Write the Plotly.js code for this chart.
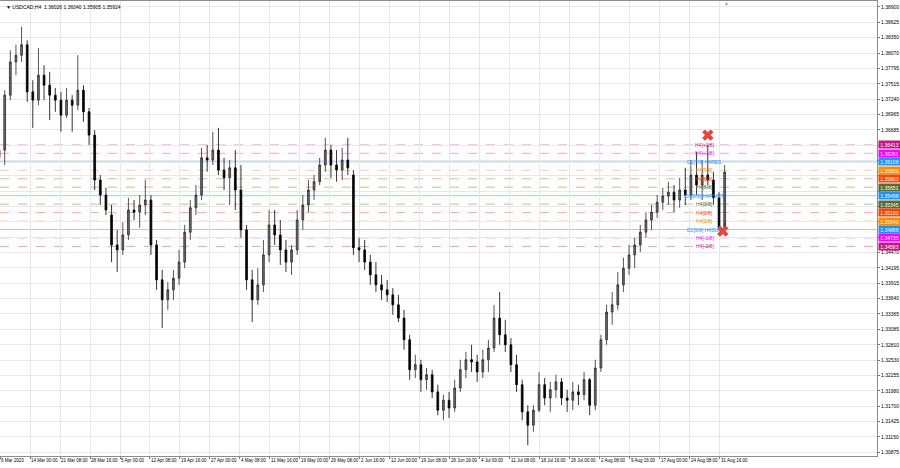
<!DOCTYPE html>
<html>
<head>
<meta charset="utf-8">
<script src="https://cdn.plot.ly/plotly-3.0.1.min.js"></script>
<style>html,body{margin:0;padding:0;background:#fff;}#chart{width:900px;height:468px;}</style>
</head>
<body>
<div id="chart"></div>
<script>
// Daily OHLC (6 Mar 2023 .. 1 Sep 2023)
const openP = [1.3618,1.3632,1.3731,1.3791,1.3803,1.3822,1.3737,1.3722,1.3767,1.3749,
1.3731,1.3722,1.3695,1.3722,1.3713,1.3740,1.3701,1.3659,1.3578,1.3551,
1.3515,1.3461,1.3452,1.3479,1.3524,1.3520,1.3533,1.3542,1.3461,1.3398,
1.3362,1.3380,1.3401,1.3430,1.3484,1.3528,1.3551,1.3618,1.3614,1.3632,
1.3596,1.3582,1.3600,1.3560,1.3488,1.3398,1.3362,1.3389,1.3443,1.3497,
1.3479,1.3452,1.3430,1.3452,1.3506,1.3533,1.3560,1.3575,1.3605,1.3632,
1.3605,1.3596,1.3614,1.3587,1.3456,1.3452,1.3430,1.3407,1.3389,1.3380,
1.3371,1.3353,1.3329,1.3290,1.3236,1.3245,1.3218,1.3227,1.3196,1.3163,
1.3181,1.3167,1.3203,1.3236,1.3254,1.3250,1.3232,1.3254,1.3275,1.3329,
1.3299,1.3281,1.3245,1.3209,1.3160,1.3136,1.3163,1.3209,1.3185,1.3200,
1.3214,1.3185,1.3181,1.3196,1.3191,1.3218,1.3172,1.3239,1.3290,1.3340,
1.3353,1.3389,1.3419,1.3443,1.3461,1.3484,1.3506,1.3520,1.3538,1.3549,
1.3556,1.3542,1.3560,1.3551,1.3587,1.3569,1.3587,1.3578,1.3546,1.3492];
const highP = [1.3650,1.3740,1.3812,1.3822,1.3854,1.3830,1.3758,1.3816,1.3785,1.3773,
1.3744,1.3737,1.3744,1.3731,1.3803,1.3749,1.3708,1.3668,1.3587,1.3564,
1.3533,1.3488,1.3502,1.3546,1.3542,1.3551,1.3578,1.3551,1.3470,1.3416,
1.3394,1.3416,1.3452,1.3497,1.3542,1.3569,1.3636,1.3641,1.3665,1.3672,
1.3618,1.3614,1.3632,1.3605,1.3497,1.3416,1.3419,1.3470,1.3524,1.3524,
1.3506,1.3470,1.3461,1.3524,1.3551,1.3578,1.3587,1.3618,1.3654,1.3641,
1.3632,1.3636,1.3654,1.3596,1.3474,1.3470,1.3443,1.3430,1.3407,1.3398,
1.3383,1.3371,1.3344,1.3299,1.3263,1.3254,1.3239,1.3236,1.3209,1.3191,
1.3196,1.3218,1.3254,1.3268,1.3281,1.3263,1.3272,1.3290,1.3353,1.3376,
1.3326,1.3293,1.3263,1.3218,1.3172,1.3172,1.3232,1.3221,1.3214,1.3227,
1.3221,1.3200,1.3214,1.3209,1.3232,1.3221,1.3254,1.3299,1.3353,1.3376,
1.3412,1.3438,1.3461,1.3474,1.3497,1.3520,1.3533,1.3551,1.3564,1.3575,
1.3569,1.3582,1.3600,1.3614,1.3629,1.3614,1.3641,1.3593,1.3556,1.3605];
const lowP = [1.3603,1.3605,1.3722,1.3767,1.3791,1.3719,1.3672,1.3713,1.3722,1.3686,
1.3701,1.3665,1.3690,1.3665,1.3704,1.3683,1.3641,1.3560,1.3533,1.3515,
1.3430,1.3412,1.3443,1.3470,1.3506,1.3492,1.3515,1.3443,1.3380,1.3311,
1.3344,1.3362,1.3389,1.3419,1.3470,1.3515,1.3542,1.3593,1.3605,1.3587,
1.3560,1.3533,1.3524,1.3474,1.3380,1.3322,1.3353,1.3376,1.3430,1.3461,
1.3425,1.3412,1.3407,1.3443,1.3488,1.3520,1.3542,1.3569,1.3593,1.3582,
1.3575,1.3578,1.3587,1.3443,1.3430,1.3416,1.3389,1.3376,1.3362,1.3358,
1.3335,1.3322,1.3272,1.3218,1.3221,1.3196,1.3200,1.3185,1.3154,1.3145,
1.3149,1.3160,1.3196,1.3221,1.3232,1.3214,1.3221,1.3232,1.3268,1.3281,
1.3268,1.3232,1.3196,1.3145,1.3100,1.3124,1.3160,1.3172,1.3160,1.3185,
1.3172,1.3160,1.3163,1.3172,1.3181,1.3154,1.3163,1.3232,1.3281,1.3317,
1.3344,1.3376,1.3407,1.3419,1.3448,1.3474,1.3488,1.3510,1.3524,1.3533,
1.3520,1.3528,1.3533,1.3542,1.3551,1.3542,1.3569,1.3533,1.3492,1.3502];
const closeP = [1.3632,1.3731,1.3791,1.3803,1.3822,1.3737,1.3722,1.3767,1.3749,1.3731,
1.3722,1.3695,1.3722,1.3713,1.3740,1.3701,1.3659,1.3578,1.3551,1.3524,
1.3461,1.3452,1.3479,1.3524,1.3520,1.3533,1.3542,1.3461,1.3398,1.3362,
1.3380,1.3401,1.3430,1.3484,1.3528,1.3551,1.3618,1.3614,1.3632,1.3596,
1.3582,1.3600,1.3560,1.3488,1.3398,1.3362,1.3389,1.3443,1.3497,1.3479,
1.3452,1.3430,1.3452,1.3506,1.3533,1.3560,1.3575,1.3605,1.3632,1.3605,
1.3596,1.3614,1.3600,1.3456,1.3452,1.3430,1.3407,1.3389,1.3380,1.3371,
1.3353,1.3329,1.3290,1.3236,1.3245,1.3218,1.3227,1.3196,1.3163,1.3181,
1.3167,1.3203,1.3236,1.3254,1.3250,1.3232,1.3254,1.3275,1.3329,1.3299,
1.3281,1.3245,1.3209,1.3160,1.3136,1.3163,1.3209,1.3185,1.3200,1.3214,
1.3185,1.3181,1.3196,1.3191,1.3218,1.3172,1.3239,1.3290,1.3340,1.3353,
1.3389,1.3419,1.3443,1.3461,1.3484,1.3506,1.3520,1.3538,1.3549,1.3556,
1.3542,1.3560,1.3551,1.3587,1.3569,1.3587,1.3578,1.3546,1.3492,1.35924];

const xTickText = ['6 Mar 2023','14 Mar 00:00','21 Mar 08:00','28 Mar 16:00','5 Apr 00:00','12 Apr 08:00',
'19 Apr 16:00','27 Apr 00:00','4 May 08:00','11 May 16:00','19 May 00:00','26 May 08:00','2 Jun 16:00',
'12 Jun 00:00','19 Jun 08:00','26 Jun 16:00','4 Jul 00:00','11 Jul 08:00','18 Jul 16:00','26 Jul 00:00',
'2 Aug 08:00','9 Aug 16:00','17 Aug 00:00','24 Aug 08:00','31 Aug 16:00'];
// price-scale ticks; those hidden behind the level boxes in the reference are left blank
const yTickVals = [1.38900,1.38625,1.38350,1.38070,1.37795,1.37515,1.37240,1.36965,1.36685,
1.36410,1.36130,1.35855,1.35575,1.35300,1.35025,1.34745,1.34470,1.34195,1.33915,1.33640,
1.33365,1.33085,1.32810,1.32530,1.32255,1.31980,1.31700,1.31425,1.31150,1.30875];
const yTickText = ['1.38900','1.38625','1.38350','1.38070','1.37795','1.37515','1.37240','1.36965','1.36685',
'','','','','','','','1.34470','1.34195','1.33915','1.33640',
'1.33365','1.33085','1.32810','1.32530','1.32255','1.31980','1.31700','1.31425','1.31150','1.30875'];

const levelNames = ['H4[+2/8]','H4[+1/8]','D1[7/8] H4RES','H4[7/8]','H4[6/8]','H4[5/8]','D1[6/8] H4PIVOT',
'H4[3/8]','H4[2/8]','H4[1/8]','D1[5/8] H4SUP','H4[-1/8]','H4[-2/8]'];
const levelValues = [1.36413,1.36261,1.36108,1.35956,1.35803,1.35651,1.35498,1.35345,1.35193,1.35040,1.34888,1.34735,1.34583];

const signalBars = [759, 775];      // H4 bar index of the signals
const signalPrices = [1.3659, 1.3486];

const headerText = '\u25BC USDCAD,H4  1.36026 1.36040 1.35905 1.35924';

// ---- styling ----
const levelColor = ['#c71585','#ff00ff','#1e90ff','#ff8c00','#ff4500','#556b2f','#1e90ff','#556b2f','#ff4500','#ff8c00','#1e90ff','#ff00ff','#c71585'];
const lineColor  = ['#eaa0cf','#f5a3f5','#a6cdf5','#f8cf9c','#f7b199','#b9bfa8','#a6cdf5','#b9bfa8','#f7b199','#f8cf9c','#a6cdf5','#f5a3f5','#eaa0cf'];
const lineDash   = ['dash','dash','solid','dash','dash','dash','solid','dash','dash','dash','solid','dash','dash'];

const BARS_PER_DAY = 6, FIRST_BAR = 4, LABEL_STEP = 32;
const xs = openP.map((_, d) => d * BARS_PER_DAY + 3);
const tickVals = xTickText.map((_, j) => FIRST_BAR + LABEL_STEP * j);
const FONT = 'Liberation Sans, Arial, sans-serif';

const traces = [{
  type: 'candlestick', x: xs, open: openP, high: highP, low: lowP, close: closeP,
  increasing: {line: {color: '#2a2a2a', width: 0.8}, fillcolor: '#6e6e6e'},
  decreasing: {line: {color: '#000000', width: 0.8}, fillcolor: '#000000'},
  whiskerwidth: 0, hoverinfo: 'skip', showlegend: false
}, {
  type: 'scatter', mode: 'markers', x: signalBars, y: signalPrices,
  marker: {symbol: 'x', size: 10, color: '#e8453c', line: {width: 0}},
  hoverinfo: 'skip', showlegend: false
}];

const shapes = levelValues.map((v, k) => ({
  type: 'line', xref: 'paper', x0: 0, x1: 1, yref: 'y', y0: v, y1: v,
  line: {color: lineColor[k], width: 1, dash: lineDash[k]}, layer: 'below'
}));

const annotations = [];
levelValues.forEach((v, k) => {
  annotations.push({
    xref: 'paper', x: 1, xanchor: 'left', xshift: 1, yref: 'y', y: v, yanchor: 'middle',
    text: v.toFixed(5), showarrow: false, font: {family: FONT, size: 5, color: '#ffffff'},
    bgcolor: levelColor[k], width: 21, height: 7, borderpad: 0
  });
  annotations.push({
    xref: 'x', x: 756, xanchor: 'center', yref: 'y', y: v, yanchor: 'middle',
    text: levelNames[k], showarrow: false, font: {family: FONT, size: 5, color: levelColor[k]}
  });
});
annotations.push({
  xref: 'paper', x: 0.004, xanchor: 'left', yref: 'paper', y: 0.997, yanchor: 'top',
  text: headerText, showarrow: false, font: {family: FONT, size: 5, color: '#000'}
});
annotations.push({
  xref: 'x', x: 779, xanchor: 'center', yref: 'paper', y: 1.004, yanchor: 'top',
  text: '\u25BC', showarrow: false, font: {family: FONT, size: 5, color: '#999'}
});

const layout = {
  width: 900, height: 468,
  margin: {l: 0, r: 23, t: 1, b: 12, pad: 0},
  paper_bgcolor: '#ffffff', plot_bgcolor: '#ffffff',
  showlegend: false, boxgap: 0.55,
  xaxis: {
    type: 'linear', range: [FIRST_BAR, 939.5], tickvals: tickVals, ticktext: xTickText,
    ticklabelposition: 'outside right', tickangle: 0,
    showgrid: true, gridcolor: '#e8e8e8', gridwidth: 1, zeroline: false,
    showline: true, linecolor: '#8c8c8c', linewidth: 1, mirror: true,
    ticks: 'outside', ticklen: 2, tickcolor: '#777',
    tickfont: {family: FONT, size: 4.5, color: '#000'},
    rangeslider: {visible: false}, fixedrange: true
  },
  yaxis: {
    side: 'right', range: [1.30804, 1.39008], tickvals: yTickVals, ticktext: yTickText,
    showgrid: true, gridcolor: '#e8e8e8', gridwidth: 1, zeroline: false,
    showline: true, linecolor: '#8c8c8c', linewidth: 1, mirror: true,
    ticks: 'outside', ticklen: 2, tickcolor: '#777',
    tickfont: {family: FONT, size: 5, color: '#000'}, fixedrange: true
  },
  shapes: shapes, annotations: annotations
};

Plotly.newPlot('chart', traces, layout, {staticPlot: true, displayModeBar: false});
</script>
</body>
</html>
